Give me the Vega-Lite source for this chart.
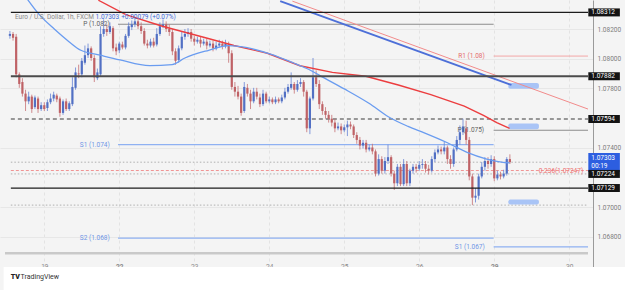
{
  "$schema": "https://vega.github.io/schema/vega-lite/v6.json",
  "width": 593,
  "height": 272,
  "autosize": {"type": "none"},
  "padding": {"left": 0, "top": 0, "right": 32, "bottom": 18},
  "background": "#f4f4f4",
  "config": {
    "view": {"stroke": null},
    "font": "Roboto",
    "text": {"font": "Roboto"}
  },
  "datasets": {
    "candles": [
      {"t":0,"o":1.08154,"h":1.08187,"l":1.08135,"c":1.08167},
      {"t":1,"o":1.08167,"h":1.08180,"l":1.08122,"c":1.08141},
      {"t":2,"o":1.08148,"h":1.08167,"l":1.07875,"c":1.07895},
      {"t":3,"o":1.07895,"h":1.07908,"l":1.07804,"c":1.07830},
      {"t":4,"o":1.07843,"h":1.07869,"l":1.07745,"c":1.07765},
      {"t":5,"o":1.07765,"h":1.07791,"l":1.07648,"c":1.07713},
      {"t":6,"o":1.07713,"h":1.07778,"l":1.07694,"c":1.07745},
      {"t":7,"o":1.07745,"h":1.07758,"l":1.07635,"c":1.07661},
      {"t":8,"o":1.07674,"h":1.07752,"l":1.07661,"c":1.07739},
      {"t":9,"o":1.07732,"h":1.07745,"l":1.07635,"c":1.07661},
      {"t":10,"o":1.07661,"h":1.07707,"l":1.07648,"c":1.07687},
      {"t":11,"o":1.07687,"h":1.07707,"l":1.07648,"c":1.07661},
      {"t":12,"o":1.07668,"h":1.07726,"l":1.07648,"c":1.07707},
      {"t":13,"o":1.07707,"h":1.07765,"l":1.07694,"c":1.07732},
      {"t":14,"o":1.07732,"h":1.07778,"l":1.07713,"c":1.07758},
      {"t":15,"o":1.07752,"h":1.07765,"l":1.07707,"c":1.07726},
      {"t":16,"o":1.07732,"h":1.07745,"l":1.07609,"c":1.07635},
      {"t":17,"o":1.07635,"h":1.07726,"l":1.07622,"c":1.07713},
      {"t":18,"o":1.07713,"h":1.07732,"l":1.07648,"c":1.07661},
      {"t":19,"o":1.07661,"h":1.07713,"l":1.07648,"c":1.07700},
      {"t":20,"o":1.07694,"h":1.07875,"l":1.07681,"c":1.07810},
      {"t":21,"o":1.07804,"h":1.07941,"l":1.07791,"c":1.07908},
      {"t":22,"o":1.07901,"h":1.07960,"l":1.07869,"c":1.07895},
      {"t":23,"o":1.07895,"h":1.08005,"l":1.07875,"c":1.07986},
      {"t":24,"o":1.07973,"h":1.08089,"l":1.07960,"c":1.08024},
      {"t":25,"o":1.08024,"h":1.08102,"l":1.08005,"c":1.08070},
      {"t":26,"o":1.08070,"h":1.08083,"l":1.07986,"c":1.08005},
      {"t":27,"o":1.08005,"h":1.08024,"l":1.07843,"c":1.07875},
      {"t":28,"o":1.07869,"h":1.07934,"l":1.07856,"c":1.07908},
      {"t":29,"o":1.07895,"h":1.08219,"l":1.07882,"c":1.08167},
      {"t":30,"o":1.08167,"h":1.08265,"l":1.08148,"c":1.08200},
      {"t":31,"o":1.08200,"h":1.08232,"l":1.08154,"c":1.08180},
      {"t":32,"o":1.08180,"h":1.08245,"l":1.08167,"c":1.08219},
      {"t":33,"o":1.08206,"h":1.08219,"l":1.08050,"c":1.08070},
      {"t":34,"o":1.08076,"h":1.08102,"l":1.08024,"c":1.08050},
      {"t":35,"o":1.08057,"h":1.08115,"l":1.08037,"c":1.08102},
      {"t":36,"o":1.08096,"h":1.08115,"l":1.08063,"c":1.08076},
      {"t":37,"o":1.08076,"h":1.08167,"l":1.08063,"c":1.08154},
      {"t":38,"o":1.08154,"h":1.08245,"l":1.08141,"c":1.08219},
      {"t":39,"o":1.08213,"h":1.08258,"l":1.08193,"c":1.08232},
      {"t":40,"o":1.08232,"h":1.08271,"l":1.08213,"c":1.08252},
      {"t":41,"o":1.08252,"h":1.08265,"l":1.08200,"c":1.08219},
      {"t":42,"o":1.08219,"h":1.08245,"l":1.08167,"c":1.08187},
      {"t":43,"o":1.08187,"h":1.08206,"l":1.08089,"c":1.08102},
      {"t":44,"o":1.08102,"h":1.08128,"l":1.08070,"c":1.08089},
      {"t":45,"o":1.08089,"h":1.08135,"l":1.08076,"c":1.08115},
      {"t":46,"o":1.08115,"h":1.08141,"l":1.08076,"c":1.08089},
      {"t":47,"o":1.08096,"h":1.08206,"l":1.08083,"c":1.08167},
      {"t":48,"o":1.08167,"h":1.08245,"l":1.08154,"c":1.08219},
      {"t":49,"o":1.08219,"h":1.08265,"l":1.08206,"c":1.08232},
      {"t":50,"o":1.08232,"h":1.08252,"l":1.08180,"c":1.08200},
      {"t":51,"o":1.08200,"h":1.08232,"l":1.08154,"c":1.08180},
      {"t":52,"o":1.08180,"h":1.08200,"l":1.08024,"c":1.08050},
      {"t":53,"o":1.08050,"h":1.08070,"l":1.07960,"c":1.07986},
      {"t":54,"o":1.07992,"h":1.08089,"l":1.07973,"c":1.08070},
      {"t":55,"o":1.08070,"h":1.08180,"l":1.08057,"c":1.08148},
      {"t":56,"o":1.08148,"h":1.08200,"l":1.08128,"c":1.08167},
      {"t":57,"o":1.08167,"h":1.08206,"l":1.08148,"c":1.08180},
      {"t":58,"o":1.08180,"h":1.08200,"l":1.08115,"c":1.08135},
      {"t":59,"o":1.08135,"h":1.08154,"l":1.08089,"c":1.08115},
      {"t":60,"o":1.08115,"h":1.08148,"l":1.08102,"c":1.08128},
      {"t":61,"o":1.08128,"h":1.08148,"l":1.08076,"c":1.08102},
      {"t":62,"o":1.08102,"h":1.08135,"l":1.08089,"c":1.08115},
      {"t":63,"o":1.08115,"h":1.08135,"l":1.08063,"c":1.08089},
      {"t":64,"o":1.08089,"h":1.08122,"l":1.08076,"c":1.08102},
      {"t":65,"o":1.08102,"h":1.08122,"l":1.08050,"c":1.08070},
      {"t":66,"o":1.08070,"h":1.08115,"l":1.08057,"c":1.08089},
      {"t":67,"o":1.08089,"h":1.08128,"l":1.08076,"c":1.08102},
      {"t":68,"o":1.08102,"h":1.08122,"l":1.08063,"c":1.08083},
      {"t":69,"o":1.08083,"h":1.08128,"l":1.08070,"c":1.08102},
      {"t":70,"o":1.08096,"h":1.08115,"l":1.07973,"c":1.08037},
      {"t":71,"o":1.08037,"h":1.08057,"l":1.07791,"c":1.07810},
      {"t":72,"o":1.07810,"h":1.07843,"l":1.07745,"c":1.07778},
      {"t":73,"o":1.07778,"h":1.07817,"l":1.07726,"c":1.07745},
      {"t":74,"o":1.07745,"h":1.07765,"l":1.07616,"c":1.07635},
      {"t":75,"o":1.07648,"h":1.07843,"l":1.07635,"c":1.07810},
      {"t":76,"o":1.07804,"h":1.07830,"l":1.07745,"c":1.07765},
      {"t":77,"o":1.07765,"h":1.07791,"l":1.07661,"c":1.07713},
      {"t":78,"o":1.07713,"h":1.07804,"l":1.07700,"c":1.07778},
      {"t":79,"o":1.07778,"h":1.07804,"l":1.07726,"c":1.07745},
      {"t":80,"o":1.07739,"h":1.07765,"l":1.07674,"c":1.07694},
      {"t":81,"o":1.07694,"h":1.07791,"l":1.07681,"c":1.07765},
      {"t":82,"o":1.07765,"h":1.07778,"l":1.07700,"c":1.07713},
      {"t":83,"o":1.07713,"h":1.07745,"l":1.07700,"c":1.07726},
      {"t":84,"o":1.07726,"h":1.07739,"l":1.07694,"c":1.07707},
      {"t":85,"o":1.07707,"h":1.07745,"l":1.07694,"c":1.07726},
      {"t":86,"o":1.07726,"h":1.07739,"l":1.07700,"c":1.07713},
      {"t":87,"o":1.07713,"h":1.07758,"l":1.07700,"c":1.07739},
      {"t":88,"o":1.07739,"h":1.07804,"l":1.07726,"c":1.07778},
      {"t":89,"o":1.07778,"h":1.07830,"l":1.07765,"c":1.07810},
      {"t":90,"o":1.07804,"h":1.07908,"l":1.07791,"c":1.07830},
      {"t":91,"o":1.07830,"h":1.07843,"l":1.07765,"c":1.07791},
      {"t":92,"o":1.07791,"h":1.07856,"l":1.07778,"c":1.07830},
      {"t":93,"o":1.07830,"h":1.07869,"l":1.07810,"c":1.07843},
      {"t":94,"o":1.07843,"h":1.07856,"l":1.07745,"c":1.07778},
      {"t":95,"o":1.07778,"h":1.07791,"l":1.07505,"c":1.07531},
      {"t":96,"o":1.07531,"h":1.07745,"l":1.07492,"c":1.07732},
      {"t":97,"o":1.07732,"h":1.08005,"l":1.07719,"c":1.07875},
      {"t":98,"o":1.07875,"h":1.07921,"l":1.07810,"c":1.07830},
      {"t":99,"o":1.07830,"h":1.07856,"l":1.07661,"c":1.07694},
      {"t":100,"o":1.07694,"h":1.07713,"l":1.07622,"c":1.07648},
      {"t":101,"o":1.07648,"h":1.07674,"l":1.07596,"c":1.07622},
      {"t":102,"o":1.07622,"h":1.07648,"l":1.07570,"c":1.07596},
      {"t":103,"o":1.07596,"h":1.07622,"l":1.07544,"c":1.07570},
      {"t":104,"o":1.07570,"h":1.07596,"l":1.07505,"c":1.07531},
      {"t":105,"o":1.07531,"h":1.07570,"l":1.07518,"c":1.07544},
      {"t":106,"o":1.07544,"h":1.07564,"l":1.07492,"c":1.07518},
      {"t":107,"o":1.07518,"h":1.07557,"l":1.07505,"c":1.07538},
      {"t":108,"o":1.07538,"h":1.07583,"l":1.07479,"c":1.07557},
      {"t":109,"o":1.07557,"h":1.07577,"l":1.07525,"c":1.07544},
      {"t":110,"o":1.07544,"h":1.07557,"l":1.07466,"c":1.07486},
      {"t":111,"o":1.07486,"h":1.07505,"l":1.07427,"c":1.07453},
      {"t":112,"o":1.07453,"h":1.07473,"l":1.07389,"c":1.07415},
      {"t":113,"o":1.07415,"h":1.07453,"l":1.07395,"c":1.07434},
      {"t":114,"o":1.07434,"h":1.07453,"l":1.07369,"c":1.07389},
      {"t":115,"o":1.07389,"h":1.07421,"l":1.07376,"c":1.07402},
      {"t":116,"o":1.07402,"h":1.07427,"l":1.07356,"c":1.07376},
      {"t":117,"o":1.07376,"h":1.07389,"l":1.07207,"c":1.07226},
      {"t":118,"o":1.07226,"h":1.07356,"l":1.07213,"c":1.07324},
      {"t":119,"o":1.07324,"h":1.07343,"l":1.07226,"c":1.07246},
      {"t":120,"o":1.07246,"h":1.07337,"l":1.07226,"c":1.07311},
      {"t":121,"o":1.07311,"h":1.07421,"l":1.07291,"c":1.07337},
      {"t":122,"o":1.07337,"h":1.07350,"l":1.07207,"c":1.07226},
      {"t":123,"o":1.07226,"h":1.07246,"l":1.07116,"c":1.07161},
      {"t":124,"o":1.07161,"h":1.07291,"l":1.07142,"c":1.07272},
      {"t":125,"o":1.07272,"h":1.07291,"l":1.07142,"c":1.07155},
      {"t":126,"o":1.07155,"h":1.07324,"l":1.07142,"c":1.07291},
      {"t":127,"o":1.07291,"h":1.07311,"l":1.07142,"c":1.07161},
      {"t":128,"o":1.07161,"h":1.07259,"l":1.07142,"c":1.07246},
      {"t":129,"o":1.07246,"h":1.07291,"l":1.07226,"c":1.07272},
      {"t":130,"o":1.07272,"h":1.07291,"l":1.07233,"c":1.07259},
      {"t":131,"o":1.07259,"h":1.07311,"l":1.07246,"c":1.07285},
      {"t":132,"o":1.07285,"h":1.07324,"l":1.07259,"c":1.07291},
      {"t":133,"o":1.07291,"h":1.07311,"l":1.07233,"c":1.07259},
      {"t":134,"o":1.07259,"h":1.07285,"l":1.07220,"c":1.07246},
      {"t":135,"o":1.07246,"h":1.07343,"l":1.07233,"c":1.07324},
      {"t":136,"o":1.07324,"h":1.07389,"l":1.07304,"c":1.07369},
      {"t":137,"o":1.07369,"h":1.07415,"l":1.07356,"c":1.07389},
      {"t":138,"o":1.07389,"h":1.07408,"l":1.07356,"c":1.07376},
      {"t":139,"o":1.07376,"h":1.07440,"l":1.07356,"c":1.07402},
      {"t":140,"o":1.07402,"h":1.07415,"l":1.07291,"c":1.07324},
      {"t":141,"o":1.07324,"h":1.07350,"l":1.07259,"c":1.07291},
      {"t":142,"o":1.07291,"h":1.07402,"l":1.07272,"c":1.07389},
      {"t":143,"o":1.07389,"h":1.07479,"l":1.07376,"c":1.07453},
      {"t":144,"o":1.07453,"h":1.07551,"l":1.07421,"c":1.07505},
      {"t":145,"o":1.07505,"h":1.07596,"l":1.07486,"c":1.07544},
      {"t":146,"o":1.07531,"h":1.07583,"l":1.07421,"c":1.07453},
      {"t":147,"o":1.07453,"h":1.07473,"l":1.07181,"c":1.07207},
      {"t":148,"o":1.07207,"h":1.07226,"l":1.07014,"c":1.07064},
      {"t":149,"o":1.07064,"h":1.07129,"l":1.07032,"c":1.07077},
      {"t":150,"o":1.07077,"h":1.07226,"l":1.07051,"c":1.07207},
      {"t":151,"o":1.07207,"h":1.07304,"l":1.07194,"c":1.07272},
      {"t":152,"o":1.07272,"h":1.07337,"l":1.07246,"c":1.07311},
      {"t":153,"o":1.07311,"h":1.07337,"l":1.07259,"c":1.07291},
      {"t":154,"o":1.07291,"h":1.07350,"l":1.07272,"c":1.07324},
      {"t":155,"o":1.07324,"h":1.07343,"l":1.07175,"c":1.07194},
      {"t":156,"o":1.07194,"h":1.07246,"l":1.07181,"c":1.07220},
      {"t":157,"o":1.07220,"h":1.07239,"l":1.07187,"c":1.07207},
      {"t":158,"o":1.07207,"h":1.07252,"l":1.07194,"c":1.07226},
      {"t":159,"o":1.07226,"h":1.07337,"l":1.07213,"c":1.07324},
      {"t":160,"o":1.07324,"h":1.07356,"l":1.07291,"c":1.07303}
    ],
    "maFast": [
      {"t":4.7,"v":1.08427},{"t":9.4,"v":1.08297},{"t":14.2,"v":1.08200},{"t":18.9,"v":1.08115},
      {"t":22.7,"v":1.08057},{"t":28.9,"v":1.08024},{"t":35.2,"v":1.07992},{"t":44.7,"v":1.07953},
      {"t":51.9,"v":1.07960},{"t":56.0,"v":1.08005},{"t":63.6,"v":1.08057},{"t":69.9,"v":1.08089},
      {"t":75.5,"v":1.08076},{"t":83.4,"v":1.08031},{"t":90.6,"v":1.07973},{"t":95.0,"v":1.07934},
      {"t":100.7,"v":1.07869},{"t":107.0,"v":1.07797},{"t":114.9,"v":1.07700},{"t":121.1,"v":1.07609},
      {"t":127.4,"v":1.07544},{"t":132.8,"v":1.07499},{"t":140.0,"v":1.07434},{"t":146.3,"v":1.07369},
      {"t":152.6,"v":1.07324},{"t":157.3,"v":1.07304},{"t":159.9,"v":1.07298}
    ],
    "maSlow": [
      {"t":28.3,"v":1.08394},{"t":37.1,"v":1.08297},{"t":48.8,"v":1.08219},{"t":61.4,"v":1.08148},
      {"t":71.7,"v":1.08089},{"t":82.4,"v":1.08037},{"t":92.8,"v":1.07953},{"t":103.2,"v":1.07908},
      {"t":113.9,"v":1.07882},{"t":124.3,"v":1.07823},{"t":134.7,"v":1.07758},{"t":145.4,"v":1.07681},
      {"t":151.7,"v":1.07616},{"t":155.8,"v":1.07570},{"t":159.9,"v":1.07531}
    ],
    "trendBlue": [{"t":86.5,"v":1.08388},{"t":160.5,"v":1.07823}],
    "trendRed": [{"t":90.4,"v":1.08388},{"t":185.0,"v":1.07661}],
    "levels": [
      {"kind":"key","price":1.08312,"from":0.3,"to":185},
      {"kind":"keyThick","price":1.07882,"from":0.3,"to":185},
      {"kind":"keyDash","price":1.07594,"from":0.3,"to":185},
      {"kind":"key","price":1.07129,"from":0.3,"to":185},
      {"kind":"pivot","price":1.08232,"from":34.6,"to":154.8},
      {"kind":"pivot","price":1.07518,"from":154.8,"to":185},
      {"kind":"r1","price":1.08018,"from":154.8,"to":185},
      {"kind":"support","price":1.07421,"from":34.6,"to":154.8},
      {"kind":"support","price":1.06791,"from":34.6,"to":154.8},
      {"kind":"support","price":1.06733,"from":154.8,"to":185},
      {"kind":"fib","price":1.07247,"from":0.3,"to":185},
      {"kind":"dotted","price":1.07303,"from":0.3,"to":185},
      {"kind":"dotted","price":1.07224,"from":0.3,"to":185},
      {"kind":"dotted","price":1.07014,"from":0.3,"to":185}
    ],
    "levelLabels": [
      {"kind":"pivot","text":"P (1.082)","price":1.08232,"t":32.6},
      {"kind":"support","text":"S1 (1.074)","price":1.07421,"t":32.6},
      {"kind":"support","text":"S2 (1.068)","price":1.06791,"t":32.6},
      {"kind":"r1","text":"R1 (1.08)","price":1.08018,"t":152.6},
      {"kind":"pivot","text":"P (1.075)","price":1.07518,"t":152.4},
      {"kind":"support","text":"S1 (1.067)","price":1.06733,"t":152.6},
      {"kind":"fib","text":"0.236(1.07247)","price":1.07247,"t":184.1}
    ],
    "zones": [
      {"t1":159.5,"t2":169.3,"top":1.07836,"bottom":1.07797},
      {"t1":159.5,"t2":169.3,"top":1.07564,"bottom":1.07525},
      {"t1":159.5,"t2":169.3,"top":1.07051,"bottom":1.07018}
    ],
    "tags": [
      {"price":1.08312,"label":"1.08312"},
      {"price":1.07882,"label":"1.07882"},
      {"price":1.07594,"label":"1.07594"},
      {"price":1.07129,"label":"1.07129"}
    ]
  },
  "layer": [
    {
      "data": {"name": "levels"},
      "transform": [{"filter": "datum.kind == 'dotted'"}],
      "mark": {"type": "rule", "color": "#a0a0a0", "strokeWidth": 0.8, "strokeDash": [1.5, 2]},
      "encoding": {
        "x": {"field": "from", "type": "quantitative",
          "scale": {"domain": [-1.573, 185], "nice": false, "zero": false},
          "axis": {
            "title": null, "orient": "bottom",
            "values": [11, 35, 59, 83, 107, 131, 155, 179],
            "labelExpr": "datum.value == 11 ? '19' : datum.value == 35 ? '22' : datum.value == 59 ? '23' : datum.value == 83 ? '24' : datum.value == 107 ? '25' : datum.value == 131 ? '26' : datum.value == 155 ? '29' : '30'",
            "labelFontWeight": {"condition": {"test": "datum.value == 35 || datum.value == 155", "value": "bold"}, "value": "normal"},
            "labelColor": "#8a8a8a", "labelFontSize": 6.5, "labelFont": "Roboto",
            "labelPadding": -3, "labelBaseline": "bottom", "labelFlush": false, "labelOverlap": false,
            "ticks": false, "domain": false,
            "grid": true, "gridColor": "#e3e3e3", "gridDash": [3, 3], "gridWidth": 1
          }},
        "x2": {"field": "to"},
        "y": {"field": "price", "type": "quantitative",
          "scale": {"domain": [1.06597, 1.08362], "nice": false, "zero": false},
          "axis": {
            "title": null, "orient": "right",
            "values": [1.068, 1.07, 1.074, 1.078, 1.08, 1.082],
            "format": ".5f", "labelFontSize": 6.5, "labelColor": "#7d7d7d", "labelFont": "Roboto",
            "labelPadding": 4, "labelAlign": "left", "ticks": false,
            "domain": true, "domainColor": "#9a9a9a", "domainWidth": 1,
            "grid": true, "gridColor": "#e7e7e7", "gridWidth": 1
          }}
      }
    },
    {
      "data": {"name": "levels"},
      "transform": [{"filter": "datum.kind == 'fib'"}],
      "mark": {"type": "rule", "color": "#ef8a8a", "strokeWidth": 0.9, "strokeDash": [3, 2]},
      "encoding": {
        "x": {"field": "from", "type": "quantitative"},
        "x2": {"field": "to"},
        "y": {"field": "price", "type": "quantitative"}
      }
    },
    {
      "data": {"name": "levels"},
      "transform": [{"filter": "datum.kind == 'pivot'"}],
      "mark": {"type": "rule", "color": "#8d8d8d", "strokeWidth": 1.1},
      "encoding": {
        "x": {"field": "from", "type": "quantitative"},
        "x2": {"field": "to"},
        "y": {"field": "price", "type": "quantitative"}
      }
    },
    {
      "data": {"name": "levels"},
      "transform": [{"filter": "datum.kind == 'r1'"}],
      "mark": {"type": "rule", "color": "#f3a6a6", "strokeWidth": 1},
      "encoding": {
        "x": {"field": "from", "type": "quantitative"},
        "x2": {"field": "to"},
        "y": {"field": "price", "type": "quantitative"}
      }
    },
    {
      "data": {"name": "levels"},
      "transform": [{"filter": "datum.kind == 'support'"}],
      "mark": {"type": "rule", "color": "#8fb1f2", "strokeWidth": 1.2},
      "encoding": {
        "x": {"field": "from", "type": "quantitative"},
        "x2": {"field": "to"},
        "y": {"field": "price", "type": "quantitative"}
      }
    },
    {
      "data": {"name": "levels"},
      "transform": [{"filter": "datum.kind == 'keyDash'"}],
      "mark": {"type": "rule", "color": "#3a3a3a", "strokeWidth": 1, "strokeDash": [4, 3]},
      "encoding": {
        "x": {"field": "from", "type": "quantitative"},
        "x2": {"field": "to"},
        "y": {"field": "price", "type": "quantitative"}
      }
    },
    {
      "data": {"name": "zones"},
      "mark": {"type": "rect", "color": "#a9c4f6", "cornerRadius": 2},
      "encoding": {
        "x": {"field": "t1", "type": "quantitative"},
        "x2": {"field": "t2"},
        "y": {"field": "top", "type": "quantitative"},
        "y2": {"field": "bottom"}
      }
    },
    {
      "data": {"name": "trendRed"},
      "mark": {"type": "line", "color": "#f28b8b", "strokeWidth": 1, "clip": true},
      "encoding": {
        "x": {"field": "t", "type": "quantitative"},
        "y": {"field": "v", "type": "quantitative"}
      }
    },
    {
      "data": {"name": "trendBlue"},
      "mark": {"type": "line", "color": "#4d6fd8", "strokeWidth": 1.8, "clip": true},
      "encoding": {
        "x": {"field": "t", "type": "quantitative"},
        "y": {"field": "v", "type": "quantitative"}
      }
    },
    {
      "data": {"name": "candles"},
      "mark": {"type": "rule", "strokeWidth": 1, "opacity": 0.8},
      "encoding": {
        "x": {"field": "t", "type": "quantitative"},
        "y": {"field": "l", "type": "quantitative"},
        "y2": {"field": "h"},
        "color": {"condition": {"test": "datum.c >= datum.o", "value": "#6783d4"}, "value": "#c57174"}
      }
    },
    {
      "data": {"name": "candles"},
      "mark": {"type": "bar", "size": 2.2, "orient": "vertical"},
      "encoding": {
        "x": {"field": "t", "type": "quantitative"},
        "y": {"field": "o", "type": "quantitative"},
        "y2": {"field": "c"},
        "color": {"condition": {"test": "datum.c >= datum.o", "value": "#5270c4"}, "value": "#bf6266"}
      }
    },
    {
      "data": {"name": "maSlow"},
      "mark": {"type": "line", "color": "#ec3d3f", "strokeWidth": 1.4, "clip": true},
      "encoding": {
        "x": {"field": "t", "type": "quantitative"},
        "y": {"field": "v", "type": "quantitative"}
      }
    },
    {
      "data": {"name": "maFast"},
      "mark": {"type": "line", "color": "#6a9cf0", "strokeWidth": 1.3, "clip": true, "interpolate": "monotone"},
      "encoding": {
        "x": {"field": "t", "type": "quantitative"},
        "y": {"field": "v", "type": "quantitative"}
      }
    },
    {
      "data": {"name": "levels"},
      "transform": [{"filter": "datum.kind == 'key'"}],
      "mark": {"type": "rule", "color": "#1c1c1c", "strokeWidth": 1.3},
      "encoding": {
        "x": {"field": "from", "type": "quantitative"},
        "x2": {"field": "to"},
        "y": {"field": "price", "type": "quantitative"}
      }
    },
    {
      "data": {"name": "levels"},
      "transform": [{"filter": "datum.kind == 'keyThick'"}],
      "mark": {"type": "rule", "color": "#4b4b4b", "strokeWidth": 2.2},
      "encoding": {
        "x": {"field": "from", "type": "quantitative"},
        "x2": {"field": "to"},
        "y": {"field": "price", "type": "quantitative"}
      }
    },
    {
      "data": {"name": "levelLabels"},
      "mark": {"type": "text", "align": "right", "baseline": "middle", "fontSize": 6.5, "dx": -2},
      "encoding": {
        "x": {"field": "t", "type": "quantitative"},
        "y": {"field": "price", "type": "quantitative"},
        "text": {"field": "text"},
        "color": {"field": "kind", "type": "nominal", "legend": null,
          "scale": {"domain": ["pivot", "support", "r1", "fib"], "range": ["#5f5f5f", "#6f95e6", "#e46c6c", "#ee6f6f"]}}
      }
    },
    {
      "data": {"values": [{}]},
      "mark": {"type": "rule", "color": "#c9c9c9", "strokeWidth": 2.5},
      "encoding": {
        "x": {"datum": -1.573},
        "x2": {"datum": 185},
        "y": {"datum": 1.0669}
      }
    },
    {
      "data": {"values": [{}]},
      "mark": {"type": "rect", "color": "#ffffff"},
      "encoding": {
        "x": {"datum": -2},
        "x2": {"datum": 197},
        "y": {"datum": 1.06597},
        "y2": {"datum": 1.0630}
      }
    },
    {
      "data": {"values": [{}]},
      "mark": {"type": "bar", "orient": "horizontal", "size": 19, "color": "#2d5ee0"},
      "encoding": {
        "x": {"datum": 185.1},
        "x2": {"datum": 195.2},
        "y": {"datum": 1.07301}
      }
    },
    {
      "data": {"values": [{}]},
      "mark": {"type": "text", "text": "1.07303", "align": "left", "baseline": "middle", "fontSize": 6.5, "color": "#ffffff", "dy": -4.5, "dx": 3},
      "encoding": {"x": {"datum": 185.1}, "y": {"datum": 1.07301}}
    },
    {
      "data": {"values": [{}]},
      "mark": {"type": "text", "text": "00:19", "align": "left", "baseline": "middle", "fontSize": 6.5, "color": "#ffffff", "dy": 4, "dx": 3},
      "encoding": {"x": {"datum": 185.1}, "y": {"datum": 1.07301}}
    },
    {
      "data": {"name": "tags"},
      "mark": {"type": "bar", "orient": "horizontal", "size": 8, "color": "#131313"},
      "encoding": {
        "x": {"datum": 185.1},
        "x2": {"datum": 195.2},
        "y": {"field": "price", "type": "quantitative"}
      }
    },
    {
      "data": {"values": [{"price": 1.07224, "label": "1.07224"}]},
      "mark": {"type": "bar", "orient": "horizontal", "size": 8, "color": "#131313"},
      "encoding": {
        "x": {"datum": 185.1},
        "x2": {"datum": 195.2},
        "y": {"field": "price", "type": "quantitative"}
      }
    },
    {
      "data": {"name": "tags"},
      "mark": {"type": "text", "align": "left", "baseline": "middle", "fontSize": 6.5, "color": "#ffffff", "dx": 3},
      "encoding": {
        "x": {"datum": 185.1},
        "y": {"field": "price", "type": "quantitative"},
        "text": {"field": "label"}
      }
    },
    {
      "data": {"values": [{"price": 1.07224, "label": "1.07224"}]},
      "mark": {"type": "text", "align": "left", "baseline": "middle", "fontSize": 6.5, "color": "#ffffff", "dx": 3},
      "encoding": {
        "x": {"datum": 185.1},
        "y": {"field": "price", "type": "quantitative"},
        "text": {"field": "label"}
      }
    },
    {
      "data": {"values": [{}]},
      "mark": {"type": "text", "text": "Euro / U.S. Dollar, 1h, FXCM", "align": "left", "baseline": "middle", "fontSize": 6.5, "color": "#8a8a8a"},
      "encoding": {"x": {"datum": 1.6}, "y": {"datum": 1.08282}}
    },
    {
      "data": {"values": [{}]},
      "mark": {"type": "text", "text": "1.07303", "align": "left", "baseline": "middle", "fontSize": 6.5, "color": "#3f6bd8"},
      "encoding": {"x": {"datum": 27.4}, "y": {"datum": 1.08282}}
    },
    {
      "data": {"values": [{}]},
      "mark": {"type": "text", "text": "+0.00079 (+0.07%)", "align": "left", "baseline": "middle", "fontSize": 6.5, "color": "#3f6bd8"},
      "encoding": {"x": {"datum": 35.6}, "y": {"datum": 1.08282}}
    },
    {
      "data": {"values": [{}]},
      "mark": {"type": "text", "text": "TV", "align": "left", "baseline": "middle", "fontSize": 7, "fontWeight": 900, "color": "#222222"},
      "encoding": {"x": {"datum": 0.3}, "y": {"datum": 1.06532}}
    },
    {
      "data": {"values": [{}]},
      "mark": {"type": "text", "text": "TradingView", "align": "left", "baseline": "middle", "fontSize": 7, "color": "#333333"},
      "encoding": {"x": {"datum": 3.4}, "y": {"datum": 1.06532}}
    }
  ]
}
